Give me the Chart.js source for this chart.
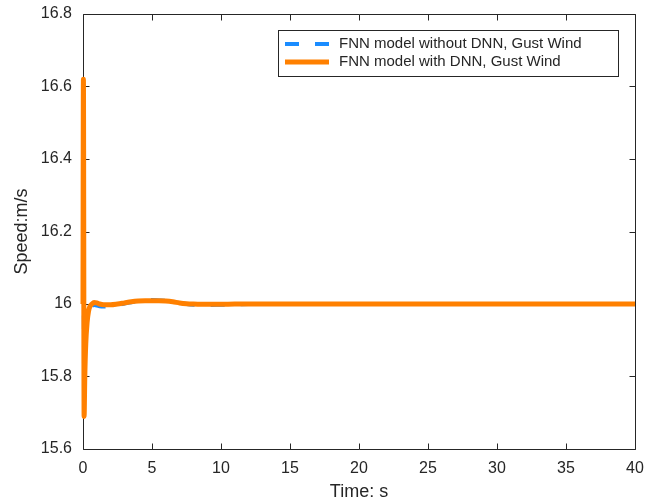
<!DOCTYPE html>
<html lang="en">
<head>
<meta charset="UTF-8">
<title>Speed response under gust wind</title>
<script src="https://cdn.jsdelivr.net/npm/chart.js"></script>
<style>
  html, body { margin: 0; padding: 0; background: #fff; }
  #wrap { width: 652px; height: 503px; }
</style>
</head>
<body>
<div id="wrap"><canvas id="speedChart" width="652" height="503"></canvas></div>
<script>
// sample times (s), dense near the gust onset
const timeS = [0, 0.03, 0.08, 0.13, 0.2, 0.3, 0.4, 0.5, 0.65, 0.8, 1.0, 1.2, 1.5, 2.0, 2.5,
  3.0, 3.5, 4.0, 4.5, 5.0, 5.5, 6.0, 6.5, 7.0, 7.5, 8.0, 9, 10, 11, 12, 14, 16, 18, 20,
  22, 24, 26, 28, 30, 32, 34, 36, 38, 40];

// speed (m/s), FNN without DNN
const speedNoDnn = [16.00, 16.15, 15.86, 15.90, 15.94, 15.97, 15.985, 15.99, 15.995, 15.997,
  15.996, 15.994, 15.993, 15.994, 15.997, 16.001, 16.005, 16.008, 16.010, 16.011, 16.010,
  16.009, 16.006, 16.003, 16.000, 15.998, 15.997, 15.998, 15.999, 16.000, 16.000, 16.000,
  16.000, 16.000, 16.000, 16.000, 16.000, 16.000, 16.000, 16.000, 16.000, 16.000, 16.000, 16.000];

// speed (m/s), FNN with DNN
const speedDnn = [16.00, 16.62, 15.69, 15.80, 15.89, 15.95, 15.98, 15.993, 16.000, 16.004,
  16.003, 16.000, 15.998, 15.998, 16.000, 16.003, 16.006, 16.008, 16.009, 16.009, 16.009,
  16.008, 16.006, 16.003, 16.001, 16.000, 15.999, 15.999, 16.000, 16.000, 16.000, 16.000,
  16.000, 16.000, 16.000, 16.000, 16.000, 16.000, 16.000, 16.000, 16.000, 16.000, 16.000, 16.000];

const xTicks = [0, 5, 10, 15, 20, 25, 30, 35, 40];
const yTicks = [15.6, 15.8, 16.0, 16.2, 16.4, 16.6, 16.8];
const seriesNames = ['FNN model without DNN, Gust Wind', 'FNN model with DNN, Gust Wind'];

const BLUE = '#1a8cff';
const ORANGE = '#ff8000';
const INK = '#262626';
const FONT = '"Liberation Sans", Arial, sans-serif';

function toPoints(ys) {
  return timeS.map((t, i) => ({ x: t, y: ys[i] }));
}

// axes box with inward ticks on all four sides
const boxFrame = {
  id: 'boxFrame',
  beforeDatasetsDraw(chart) {
    const { ctx, chartArea: a, scales: { x, y } } = chart;
    const L = Math.round(a.left) + 0.5, R = Math.round(a.right) + 0.5;
    const T = Math.round(a.top) + 0.5, B = Math.round(a.bottom) + 0.5;
    const len = 6;
    ctx.save();
    ctx.strokeStyle = INK;
    ctx.lineWidth = 1;
    ctx.beginPath();
    ctx.rect(L, T, R - L, B - T);
    xTicks.forEach(v => {
      const px = Math.round(x.getPixelForValue(v)) + 0.5;
      ctx.moveTo(px, B); ctx.lineTo(px, B - len);
      ctx.moveTo(px, T); ctx.lineTo(px, T + len);
    });
    yTicks.forEach(v => {
      const py = Math.round(y.getPixelForValue(v)) + 0.5;
      ctx.moveTo(L, py); ctx.lineTo(L + len, py);
      ctx.moveTo(R, py); ctx.lineTo(R - len, py);
    });
    ctx.stroke();
    ctx.restore();
  }
};

// boxed legend in the upper right of the plot
const boxLegend = {
  id: 'boxLegend',
  afterDatasetsDraw(chart) {
    const { ctx, data } = chart;
    const bx = 278.5, by = 30.5, bw = 340, bh = 46;
    ctx.save();
    ctx.fillStyle = '#fff';
    ctx.fillRect(bx, by, bw, bh);
    ctx.strokeStyle = INK;
    ctx.lineWidth = 1;
    ctx.strokeRect(bx, by, bw, bh);
    ctx.font = '15px ' + FONT;
    ctx.textBaseline = 'middle';
    ctx.textAlign = 'left';
    data.datasets.forEach((ds, i) => {
      const cy = 44 + i * 18;
      ctx.beginPath();
      ctx.strokeStyle = ds.borderColor;
      ctx.lineWidth = ds.borderWidth;
      ctx.setLineDash(ds.borderDash || []);
      ctx.moveTo(285, cy);
      ctx.lineTo(329, cy);
      ctx.stroke();
      ctx.setLineDash([]);
      ctx.fillStyle = INK;
      ctx.fillText(ds.label, 339, cy);
    });
    ctx.restore();
  }
};

const ctx = document.getElementById('speedChart').getContext('2d');
new Chart(ctx, {
  type: 'line',
  data: {
    datasets: [{
      label: seriesNames[0],
      data: toPoints(speedNoDnn),
      borderColor: BLUE,
      borderWidth: 4,
      borderDash: [14, 16],
      pointRadius: 0,
      cubicInterpolationMode: 'monotone',
      clip: false,
      order: 1
    }, {
      label: seriesNames[1],
      data: toPoints(speedDnn),
      borderColor: ORANGE,
      borderWidth: 5,
      pointRadius: 0,
      cubicInterpolationMode: 'monotone',
      clip: false,
      order: 0
    }]
  },
  options: {
    responsive: false,
    animation: false,
    devicePixelRatio: 1,
    layout: { padding: { left: 0, right: 17, top: 14, bottom: 0 } },
    plugins: { legend: { display: false }, tooltip: { enabled: false } },
    scales: {
      x: {
        type: 'linear',
        min: 0,
        max: 40,
        grid: { display: false, drawTicks: false },
        border: { display: false },
        ticks: { stepSize: 5, padding: 10, color: INK, font: { family: FONT, size: 16 } },
        title: { display: true, text: 'Time: s', color: INK, font: { family: FONT, size: 18 }, padding: { top: 0, bottom: 0 } },
        afterFit(s) { s.height = 54; s.paddingLeft = 0; s.paddingRight = 0; }
      },
      y: {
        type: 'linear',
        min: 15.6,
        max: 16.8,
        grid: { display: false, drawTicks: false },
        border: { display: false },
        ticks: {
          stepSize: 0.2,
          padding: 11,
          color: INK,
          font: { family: FONT, size: 16 },
          callback: v => String(Number(v.toFixed(1)))
        },
        title: { display: true, text: 'Speed:m/s', color: INK, font: { family: FONT, size: 18 }, padding: { top: 11, bottom: 0 } },
        afterFit(s) { s.width = 83; s.paddingTop = 0; s.paddingBottom = 0; }
      }
    }
  },
  plugins: [boxFrame, boxLegend]
});
</script>
</body>
</html>
